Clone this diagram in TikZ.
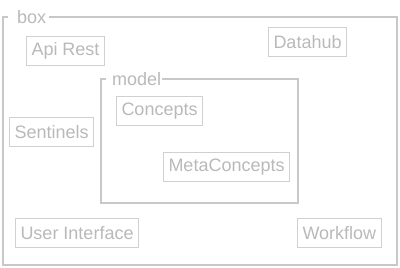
\documentclass[tikz,border=0pt]{standalone}
\usepackage{fontspec}
\setmainfont{Liberation Sans}
\usetikzlibrary{positioning}
\definecolor{framegray}{RGB}{200,200,200}
\definecolor{boxgray}{RGB}{208,208,208}
\definecolor{txtgray}{RGB}{185,185,185}
\tikzset{
  comp/.style={rectangle, draw=boxgray, text=txtgray, anchor=north west,
    minimum height=29pt, inner xsep=5pt, inner ysep=0pt,
    font=\fontsize{18}{20}\selectfont, line width=1pt},
  frameline/.style={draw=framegray, line width=1.5pt},
  frametitle/.style={text=txtgray, inner sep=0pt, anchor=west,
    font=\fontsize{18}{20}\selectfont}
}

\begin{document}
\begin{tikzpicture}[x=1pt, y=-1pt]
  \useasboundingbox (0,0) rectangle (400,268);

  % outer frame
  \node[frametitle] (boxlbl) at (17,17) {box};
  \draw[frameline] (8,17) -- (3,17) -- (3,265) -- (397,265) -- (397,17) -- (49,17);

  % model frame
  \node[frametitle] (modellbl) at (112,79) {model};
  \draw[frameline] (106,79) -- (101,79) -- (101,203) -- (298,203) -- (298,79) -- (162,79);

  % components
  \node[comp] (api) at (26,36) {Api Rest};
  \node[comp] (datahub) at (268,27) {Datahub};
  \node[comp] (sentinels) at (9,117) {Sentinels};
  \node[comp] (concepts) at (116,96) {Concepts};
  \node[comp] (meta) at (163,152) {MetaConcepts};
  \node[comp] (ui) at (15,218) {User Interface};
  \node[comp] (workflow) at (297,218) {Workflow};
\end{tikzpicture}
\end{document}
